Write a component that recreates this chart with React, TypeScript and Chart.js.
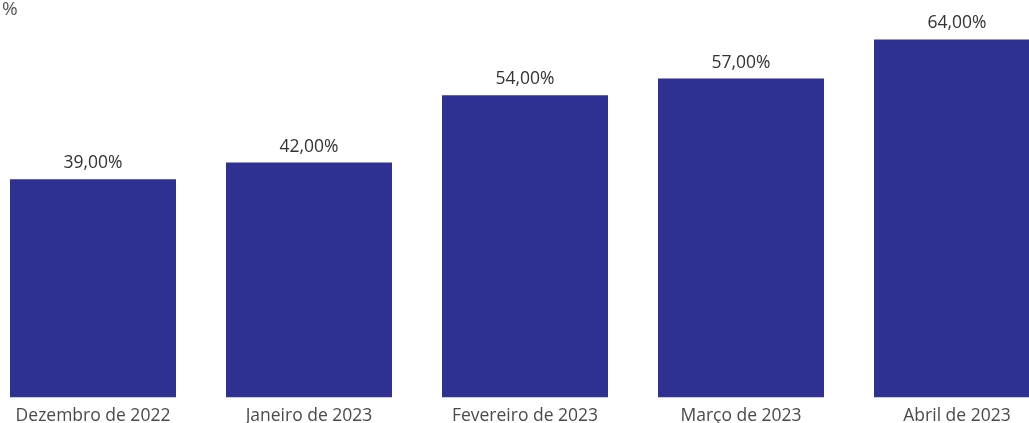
import React, { useEffect, useRef } from "react";
import { Chart, registerables } from "chart.js";

Chart.register(...registerables);

const categories = ["Dezembro de 2022", "Janeiro de 2023", "Fevereiro de 2023", "Março de 2023", "Abril de 2023"];
const values = [39, 42, 54, 57, 64];
const axisUnit = "%";

const FONT = "'Segoe UI', 'Open Sans', 'Noto Sans', sans-serif";
const OFFSET_X = -15;

const fmt = (v: number) => v.toFixed(2).replace(".", ",") + "%";

export default function App() {
  const ref = useRef<HTMLCanvasElement | null>(null);
  useEffect(() => {
    if (!ref.current) return;
    const labelPlugin = {
      id: "valueLabels",
      afterDatasetsDraw(chart: any) {
        const ctx = chart.ctx;
        const meta = chart.getDatasetMeta(0);
        ctx.save();
        ctx.font = `17.5px ${FONT}`;
        ctx.fillStyle = "#333333";
        ctx.textAlign = "center";
        ctx.textBaseline = "alphabetic";
        meta.data.forEach((el: any, i: number) => {
          ctx.fillText(fmt(values[i]), el.x, el.y - 11);
        });
        ctx.font = `19px ${FONT}`;
        ctx.fillStyle = "#555555";
        ctx.textAlign = "left";
        ctx.textBaseline = "alphabetic";
        ctx.fillText(axisUnit, 2 - OFFSET_X, 15);
        ctx.restore();
      },
    };
    const chart = new Chart(ref.current, {
      type: "bar",
      data: {
        labels: categories,
        datasets: [
          {
            data: values,
            backgroundColor: "#2E3192",
            borderWidth: 0,
            categoryPercentage: 1,
            barPercentage: 166 / 216,
          },
        ],
      },
      options: {
        responsive: false,
        animation: false,
        layout: { padding: { top: 5.85, bottom: 0, left: 0, right: 0 } },
        plugins: { legend: { display: false }, tooltip: { enabled: false } },
        scales: {
          x: {
            grid: { display: false, drawTicks: false },
            border: { display: false },
            ticks: { color: "#4a4a4a", font: { size: 17.5, family: FONT }, padding: 8, maxRotation: 0, autoSkip: false },
            afterFit: (scale: any) => {
              scale.height = 25.5;
            },
          },
          y: { display: false, min: 0, max: 70 },
        },
      },
      plugins: [labelPlugin],
    });
    return () => chart.destroy();
  }, []);
  return (
    <div style={{ position: "fixed", left: 0, top: 0, width: 1029, height: 423, overflow: "hidden", background: "#fff" }}>
      <canvas ref={ref} width={1080} height={423} style={{ position: "absolute", left: OFFSET_X, top: 0, width: 1080, height: 423 }} />
    </div>
  );
}
